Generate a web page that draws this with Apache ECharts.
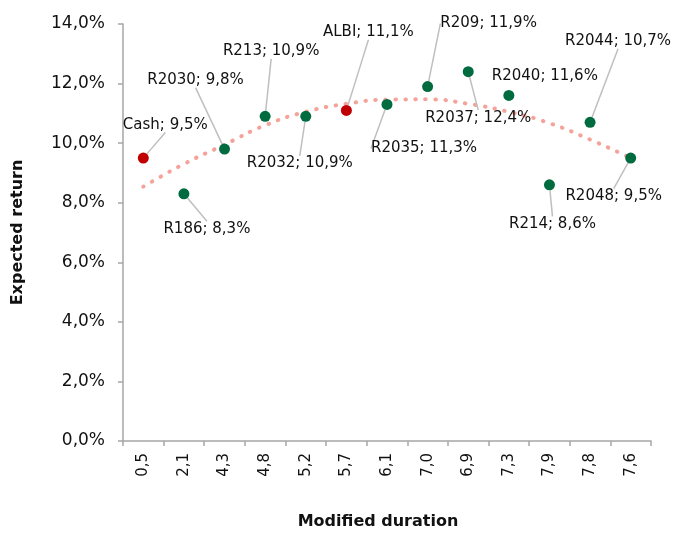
<!DOCTYPE html>
<html>
<head>
<meta charset="utf-8">
<script src="https://cdn.jsdelivr.net/npm/echarts@6/dist/echarts.min.js"></script>
<style>
  html, body { margin: 0; padding: 0; background: #fff; }
  #chart { width: 673px; height: 535px; }
</style>
</head>
<body>
<div id="chart"></div>
<script>
// Modified duration of each instrument (category axis labels)
const durations = ['0,5', '2,1', '4,3', '4,8', '5,2', '5,7', '6,1', '7,0', '6,9', '7,3', '7,9', '7,8', '7,6'];
// Instrument names
const instruments = ['Cash', 'R186', 'R2030', 'R213', 'R2032', 'ALBI', 'R2035', 'R209', 'R2037', 'R2040', 'R214', 'R2044', 'R2048'];
// Expected return, %
const expectedReturn = [9.5, 8.3, 9.8, 10.9, 10.9, 11.1, 11.3, 11.9, 12.4, 11.6, 8.6, 10.7, 9.5];
// Instruments shown as benchmarks (red markers)
const benchmarks = ['Cash', 'ALBI'];
// Polynomial trend line, % at each category
const trend = [8.54, 9.3, 9.95, 10.6, 11.05, 11.32, 11.46, 11.47, 11.32, 11.05, 10.67, 10.12, 9.5];
// Y-axis ticks
const yTicks = [0, 2, 4, 6, 8, 10, 12, 14];

const GREEN = '#006B3F';
const RED = '#C00000';
const FONT = '"DejaVu Sans", sans-serif';
const TEXT = '#111';

// Label offsets from each marker (px), and which labels get no leader line
const labelOffsets = {
  Cash: [22, -33], R186: [23, 35], R2030: [-29, -69], R213: [6, -65],
  R2032: [-6, 47], ALBI: [22, -78], R2035: [37, 44], R209: [61, -63],
  R2037: [10, 46], R2040: [36, -19], R214: [3, 39], R2044: [28, -81],
  R2048: [-17, 38]
};
const noLeader = ['R2040'];

const fmt = v => v.toFixed(1).replace('.', ',') + '%';

const scatterData = instruments.map((name, i) => ({
  name: name,
  value: [i, expectedReturn[i]],
  itemStyle: { color: benchmarks.includes(name) ? RED : GREEN, opacity: 1 },
  labelLine: { show: !noLeader.includes(name) }
}));

const chart = echarts.init(document.getElementById('chart'));
chart.setOption({
  animation: false,
  backgroundColor: '#fff',
  grid: { left: 123, right: 22, top: 24, bottom: 85, containLabel: false },
  xAxis: {
    type: 'category',
    data: durations,
    name: 'Modified duration',
    nameLocation: 'middle',
    nameGap: 73,
    nameTextStyle: { fontFamily: FONT, fontSize: 16, fontWeight: 'bold', color: TEXT, padding: [0, 18, 0, 0] },
    axisLine: { lineStyle: { color: '#A6A6A6', width: 1.5 } },
    axisTick: { show: true, length: 5, lineStyle: { color: '#A6A6A6', width: 1.5 } },
    axisLabel: { rotate: 90, margin: 12, fontFamily: FONT, fontSize: 15, color: TEXT },
    splitLine: { show: false }
  },
  yAxis: {
    type: 'value',
    min: yTicks[0],
    max: yTicks[yTicks.length - 1],
    interval: yTicks[1] - yTicks[0],
    name: 'Expected return',
    nameLocation: 'middle',
    nameGap: 97,
    nameTextStyle: { fontFamily: FONT, fontSize: 16, fontWeight: 'bold', color: TEXT },
    axisLine: { show: true, lineStyle: { color: '#A6A6A6', width: 1.5 } },
    axisTick: { show: true, length: 5, lineStyle: { color: '#A6A6A6', width: 1.5 } },
    axisLabel: { margin: 18, fontFamily: FONT, fontSize: 17, color: TEXT, formatter: v => fmt(v) },
    splitLine: { show: false }
  },
  series: [
    {
      name: 'Trend',
      type: 'line',
      data: trend,
      smooth: 0.5,
      symbol: 'none',
      silent: true,
      z: 1,
      lineStyle: { color: '#F4A29A', width: 4, type: [0.5, 9.5], cap: 'round' }
    },
    {
      name: 'Instruments',
      type: 'scatter',
      data: scatterData,
      symbolSize: 11,
      z: 3,
      label: {
        show: true,
        position: 'inside',
        align: 'center',
        verticalAlign: 'middle',
        fontFamily: FONT,
        fontSize: 15,
        color: TEXT,
        formatter: p => p.name + '; ' + fmt(p.value[1])
      },
      labelLine: { show: true, lineStyle: { color: '#BFBFBF', width: 1.5 } },
      labelLayout: p => {
        const off = labelOffsets[instruments[p.dataIndex]];
        return { dx: off[0], dy: off[1] };
      }
    }
  ]
});
</script>
</body>
</html>
